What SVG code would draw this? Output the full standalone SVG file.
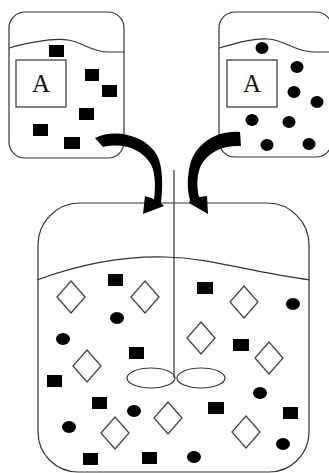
<svg xmlns="http://www.w3.org/2000/svg" width="329" height="473" viewBox="0 0 329 473">
<defs>
<style>
.tank{fill:none;stroke:#333;stroke-width:1.2}
.liq{fill:none;stroke:#333;stroke-width:1.2}
.box{fill:#fff;stroke:#333;stroke-width:1.2}
.lbl{font-family:"Liberation Serif","DejaVu Serif",serif;font-size:25px;fill:#111;text-anchor:middle}
.sq{fill:#000}
.dot{fill:#000}
.dia{fill:#fff;stroke:#444;stroke-width:1.3}
.arrow{fill:#000}
.shaft{fill:none;stroke:#333;stroke-width:1.2}
</style>
<polygon id="dm" points="0,-16 14,0 0,16 -14,0"/>
</defs>
<rect width="329" height="473" fill="#fff"/>

<g id="tankLeft">
<rect class="tank" x="9" y="12" width="115" height="146" rx="16"/>
<path class="liq" d="M9,48 C35,41 55,38 68,40 C82,42 92,52 108,52 L124,52"/>
<rect class="box" x="16" y="60" width="50" height="47"/>
<text class="lbl" x="41" y="92">A</text>
<g class="sq">
<rect x="49" y="45" width="15" height="12"/>
<rect x="85" y="69" width="14" height="12"/>
<rect x="102" y="85" width="15" height="12"/>
<rect x="79" y="108" width="15" height="12"/>
<rect x="33" y="124" width="15" height="12"/>
<rect x="64" y="137" width="16" height="12"/>
</g>
</g>

<g id="tankRight">
<rect class="tank" x="219" y="12" width="113" height="145" rx="16"/>
<path class="liq" d="M219,48 C240,42 255,38 268,39 C285,40 295,52 314,52 L330,52"/>
<rect class="box" x="227" y="60" width="50" height="47"/>
<text class="lbl" x="252" y="92">A</text>
<g class="dot">
<ellipse cx="262" cy="48" rx="6.5" ry="6"/>
<ellipse cx="297" cy="67" rx="6.5" ry="6"/>
<ellipse cx="294" cy="92" rx="6.5" ry="6"/>
<ellipse cx="317" cy="102" rx="6.5" ry="6"/>
<ellipse cx="252" cy="120" rx="6.5" ry="6"/>
<ellipse cx="289" cy="122" rx="6.5" ry="6"/>
<ellipse cx="267" cy="145" rx="6.5" ry="6"/>
<ellipse cx="309" cy="144" rx="6.5" ry="6"/>
</g>
</g>

<g id="tankMain">
<path class="tank" d="M38,245 A42,42 0 0 1 80,203 L267,203 A42,42 0 0 1 309,245 L309,432 A40,40 0 0 1 269,472 L78,472 A40,40 0 0 1 38,432 Z"/>
<path class="liq" d="M37,280 C80,264 120,256 165,257 C210,258 250,272 310,280"/>
<g class="dia">
<use href="#dm" x="71" y="297"/>
<use href="#dm" x="145" y="297"/>
<use href="#dm" x="244" y="302"/>
<use href="#dm" x="201" y="338"/>
<use href="#dm" x="269" y="358"/>
<use href="#dm" x="87" y="366"/>
<use href="#dm" x="168" y="418"/>
<use href="#dm" x="115" y="433"/>
<use href="#dm" x="246" y="432"/>
</g>
<g class="sq">
<rect x="108" y="274" width="15" height="12"/>
<rect x="197" y="282" width="16" height="12"/>
<rect x="129" y="347" width="15" height="12"/>
<rect x="233" y="339" width="16" height="12"/>
<rect x="47" y="375" width="15" height="12"/>
<rect x="92" y="397" width="15" height="12"/>
<rect x="208" y="402" width="16" height="12"/>
<rect x="283" y="407" width="15" height="12"/>
<rect x="83" y="453" width="15" height="12"/>
<rect x="142" y="452" width="15" height="12"/>
</g>
<g class="dot">
<ellipse cx="117" cy="318" rx="7" ry="6"/>
<ellipse cx="293" cy="304" rx="7" ry="6"/>
<ellipse cx="63" cy="339" rx="7" ry="6"/>
<ellipse cx="134" cy="411" rx="7" ry="6"/>
<ellipse cx="69" cy="427" rx="7" ry="6"/>
<ellipse cx="260" cy="393" rx="7" ry="6"/>
<ellipse cx="283" cy="444" rx="7" ry="6"/>
<ellipse cx="194" cy="457" rx="7" ry="6"/>
</g>
</g>

<g id="stirrer">
<line class="shaft" x1="174" y1="170" x2="174" y2="378"/>
<ellipse class="shaft" cx="151" cy="378" rx="24" ry="10"/>
<ellipse class="shaft" cx="201" cy="378" rx="24" ry="10"/>
</g>

<g id="connectors">
<path class="arrow" d="M95,138 C115,128 145,135 157,155 C163,167 163,185 161,203 L164,206 L143,214 L145,196 L154,199 C156,185 155,170 150,163 C142,150 125,142 103,147 Z"/>
<path class="arrow" d="M240,132 C215,130 195,145 190,165 C187,178 187,190 190,200 L189,203 L208,214 L207,196 L199,197 C196,185 197,170 203,162 C212,150 225,145 241,146 Z"/>
</g>
</svg>
